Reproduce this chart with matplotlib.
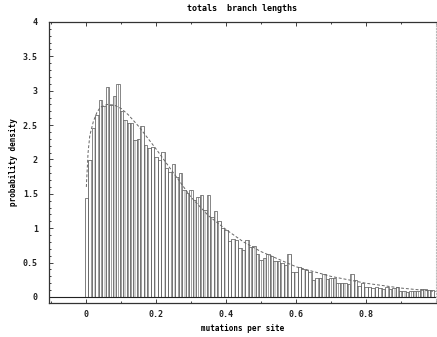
import numpy as np
import matplotlib
matplotlib.use("Agg")
import matplotlib.pyplot as plt
from matplotlib.ticker import MultipleLocator, FuncFormatter

# histogram: bin centres every 0.01, heights
bin_width = 0.01
heights = [
    1.44, 1.99, 2.45, 2.65, 2.87, 2.77, 3.05, 2.79, 2.92, 3.09,
    2.70, 2.58, 2.53, 2.53, 2.28, 2.30, 2.48, 2.21, 2.16, 2.18,
    2.04, 1.99, 2.11, 1.87, 1.82, 1.94, 1.75, 1.80, 1.56, 1.51,
    1.55, 1.41, 1.46, 1.48, 1.26, 1.48, 1.17, 1.25, 1.10, 1.00,
    0.98, 0.82, 0.84, 0.83, 0.71, 0.68, 0.83, 0.73, 0.74, 0.62,
    0.54, 0.56, 0.63, 0.59, 0.52, 0.52, 0.50, 0.47, 0.62, 0.37,
    0.36, 0.43, 0.40, 0.39, 0.37, 0.25, 0.28, 0.28, 0.34, 0.26,
    0.28, 0.28, 0.21, 0.20, 0.20, 0.19, 0.34, 0.25, 0.16, 0.21,
    0.15, 0.14, 0.13, 0.15, 0.13, 0.11, 0.15, 0.11, 0.13, 0.14,
    0.08, 0.09, 0.07, 0.08, 0.08, 0.09, 0.11, 0.11, 0.10, 0.10,
]
centres = np.arange(len(heights)) * bin_width

# fitted density curve
curve_x = [0.0, 0.005, 0.01, 0.02, 0.03, 0.04, 0.06, 0.08, 0.10, 0.12,
           0.15, 0.20, 0.25, 0.30, 0.35, 0.40, 0.45, 0.50, 0.60, 0.70,
           0.80, 0.90, 1.00]
curve_y = [1.60, 2.10, 2.35, 2.55, 2.68, 2.76, 2.80, 2.79, 2.74, 2.65,
           2.48, 2.15, 1.80, 1.45, 1.18, 0.98, 0.80, 0.66, 0.44, 0.30,
           0.20, 0.13, 0.08]

plt.rcParams['font.family'] = 'DejaVu Sans Mono'
plt.rcParams['font.weight'] = 'bold'
plt.rcParams['hatch.color'] = '#c4c4c4'
plt.rcParams['hatch.linewidth'] = 0.4

fig = plt.figure(figsize=(4.37, 3.37), dpi=100)
ax = fig.add_axes([0.112, 0.101, 0.885, 0.834])

ax.bar(centres, heights, width=bin_width, facecolor='white',
       edgecolor='#555555', linewidth=0.5, hatch='|||||')
ax.plot(curve_x, curve_y, color='#666666', linewidth=0.7,
        linestyle=(0, (3, 2)))
ax.axhline(0, color='#222222', linewidth=0.8)

ax.set_xlim(-0.107, 1.0)
ax.set_ylim(-0.087, 4.0)
ax.set_xticks([0, 0.2, 0.4, 0.6, 0.8])
ax.xaxis.set_minor_locator(MultipleLocator(0.1))
ax.yaxis.set_major_locator(MultipleLocator(0.5))
ax.yaxis.set_minor_locator(MultipleLocator(0.1))
ax.xaxis.set_major_formatter(FuncFormatter(lambda v, p: '%g' % v))
ax.yaxis.set_major_formatter(FuncFormatter(lambda v, p: '%g' % v))
ax.tick_params(which='both', direction='in', top=True, right=False,
               labelsize=6, width=0.6, colors='#222222')
ax.tick_params(which='major', length=3)
ax.tick_params(which='minor', length=1.5)
ax.tick_params(axis='x', pad=5)
ax.tick_params(axis='y', pad=8)

for side in ['left', 'bottom', 'top']:
    ax.spines[side].set_linewidth(0.9)
    ax.spines[side].set_color('#333333')
ax.spines['right'].set_color('#bbbbbb')
ax.spines['right'].set_linestyle(':')

ax.set_title('totals  branch lengths', fontsize=6, fontweight='bold', pad=8)
ax.set_xlabel('mutations per site', fontsize=5.5, fontweight='bold')
ax.set_ylabel('probability density', fontsize=5.5, fontweight='bold')
ax.xaxis.set_label_coords(0.5, -0.075)
ax.yaxis.set_label_coords(-0.08, 0.5)

fig.savefig('out.png', dpi=100)
plt.close(fig)
